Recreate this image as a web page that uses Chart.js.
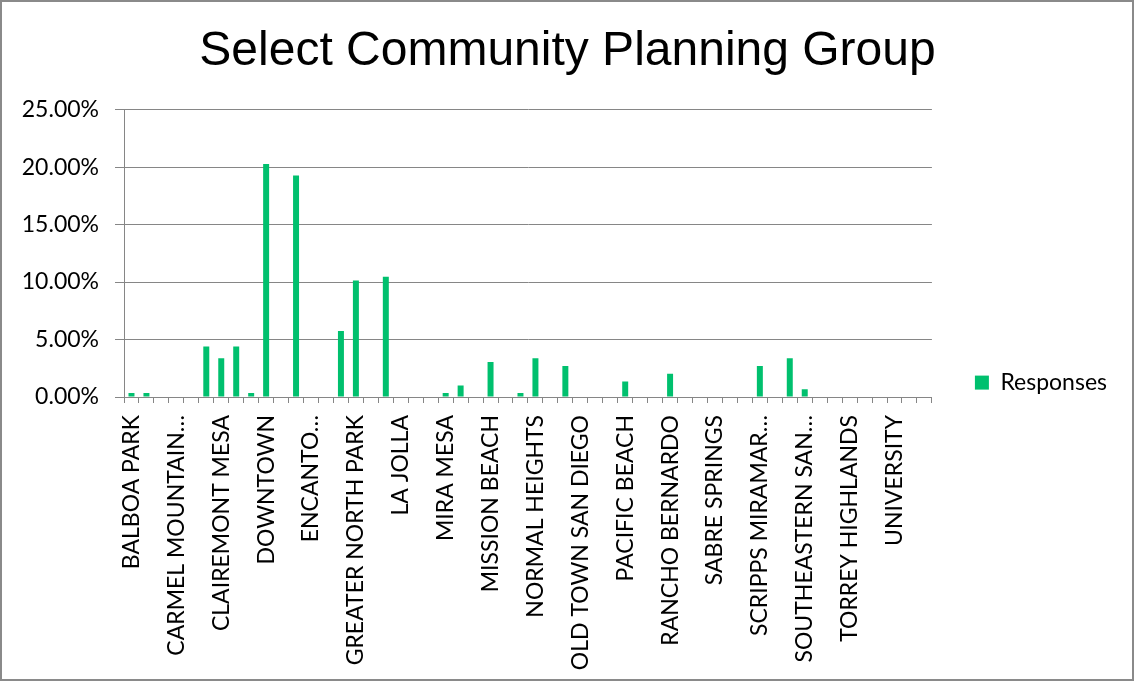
<!DOCTYPE html>
<html>
<head>
<meta charset="utf-8">
<script src="https://cdn.jsdelivr.net/npm/chart.js@4"></script>
<style>
  html, body { margin: 0; padding: 0; background: #fff; }
  #wrap { width: 1135px; height: 681px; position: relative; }
</style>
</head>
<body>
<div id="wrap"><canvas id="chart"></canvas></div>
<script>
const categories = [
  "BALBOA PARK", "BARRIO LOGAN", "BLACK MOUNTAIN RANCH",
  "CARMEL MOUNTAIN RANCH", "CARMEL VALLEY", "CITY HEIGHTS",
  "CLAIREMONT MESA", "COLLEGE AREA", "DEL MAR MESA",
  "DOWNTOWN", "EAST ELLIOTT", "EASTERN AREA",
  "ENCANTO NEIGHBORHOODS", "FAIRBANKS RANCH", "GOLDEN HILL",
  "GREATER NORTH PARK", "KEARNY MESA", "KENSINGTON-TALMADGE",
  "LA JOLLA", "LINDA VISTA", "MIDWAY-PACIFIC HIGHWAY",
  "MIRA MESA", "MIRAMAR RANCH NORTH", "MISSION BAY PARK",
  "MISSION BEACH", "MISSION VALLEY", "NAVAJO",
  "NORMAL HEIGHTS", "NORTH UNIVERSITY CITY", "OCEAN BEACH",
  "OLD TOWN SAN DIEGO", "OTAY MESA", "OTAY MESA-NESTOR",
  "PACIFIC BEACH", "PACIFIC HIGHLANDS RANCH", "PENINSULA",
  "RANCHO BERNARDO", "RANCHO ENCANTADA", "RANCHO PENASQUITOS",
  "SABRE SPRINGS", "SAN PASQUAL", "SAN YSIDRO",
  "SCRIPPS MIRAMAR RANCH", "SERRA MESA", "SKYLINE-PARADISE HILLS",
  "SOUTHEASTERN SAN DIEGO", "TIERRASANTA", "TIJUANA RIVER VALLEY",
  "TORREY HIGHLANDS", "TORREY HILLS", "TORREY PINES",
  "UNIVERSITY", "UPTOWN", "VIA DE LA VALLE"
];

// percent of responses per group
const responses = [
  0.34, 0.34, 0, 0, 0, 4.39,
  3.38, 4.39, 0.34, 20.27, 0, 19.26,
  0, 0, 5.74, 10.14, 0, 10.47,
  0, 0, 0, 0.34, 1.01, 0,
  3.04, 0, 0.34, 3.38, 0, 2.70,
  0, 0, 0, 1.35, 0, 0,
  2.03, 0, 0, 0, 0, 0,
  2.70, 0, 3.38, 0.68, 0, 0,
  0, 0, 0, 0, 0, 0
];

// only every third category gets a label on the axis
const tickLabels = [
  "BALBOA PARK", "CARMEL MOUNTAIN…", "CLAIREMONT MESA", "DOWNTOWN",
  "ENCANTO…", "GREATER NORTH PARK", "LA JOLLA", "MIRA MESA",
  "MISSION BEACH", "NORMAL HEIGHTS", "OLD TOWN SAN DIEGO", "PACIFIC BEACH",
  "RANCHO BERNARDO", "SABRE SPRINGS", "SCRIPPS MIRAMAR…", "SOUTHEASTERN SAN…",
  "TORREY HIGHLANDS", "UNIVERSITY"
];

const yMin = 0, yMax = 25, yStep = 5;

const GRID = "#868686";
const GREEN = "#00C06E";

Chart.defaults.font.family = "Lato, 'Noto Sans', sans-serif";
Chart.defaults.font.size = 23;
Chart.defaults.color = "#000";

const frame = {
  id: "frame",
  beforeDraw(chart) {
    const c = chart.ctx;
    c.save();
    c.fillStyle = "#fff";
    c.fillRect(0, 0, chart.width, chart.height);
    c.restore();
  },
  afterDraw(chart) {
    const c = chart.ctx;
    c.save();
    c.strokeStyle = "#8a8a8a";
    c.lineWidth = 2;
    c.strokeRect(1, 1, chart.width - 3, chart.height - 2);
    c.restore();
  }
};

new Chart(document.getElementById("chart"), {
  type: "bar",
  data: {
    labels: categories,
    datasets: [{
      label: "Responses",
      data: responses,
      backgroundColor: GREEN,
      borderWidth: 0,
      barPercentage: 0.4,
      categoryPercentage: 1
    }]
  },
  options: {
    responsive: true,
    maintainAspectRatio: false,
    animation: false,
    layout: { padding: { left: 18, right: 18, top: 0, bottom: 0 } },
    plugins: {
      title: {
        display: true,
        text: "Select Community Planning Group",
        font: { family: "'Liberation Sans', Arial, sans-serif", size: 48, weight: "normal" },
        color: "#000",
        padding: { top: 23, bottom: 29 }
      },
      legend: {
        position: "right",
        // empty title only pushes the entry down a little
        title: { display: true, text: "", font: { size: 21 }, padding: { top: 0, bottom: 59 } },
        labels: {
          boxWidth: 14,
          boxHeight: 14,
          padding: 43,
          font: { size: 23 }
        }
      },
      tooltip: { enabled: false }
    },
    scales: {
      x: {
        offset: true,
        grid: { offset: true, drawOnChartArea: false, drawTicks: true, tickLength: 6, color: GRID },
        border: { color: GRID, width: 1 },
        ticks: {
          autoSkip: false,
          maxRotation: 90,
          minRotation: 90,
          padding: 12,
          callback: (v, i) => (i % 3 === 0 ? tickLabels[i / 3] : "")
        },
        afterFit: s => { s.height = 284; }
      },
      y: {
        min: yMin,
        max: yMax,
        grid: { color: GRID, tickLength: 9 },
        border: { color: GRID, width: 1 },
        ticks: {
          stepSize: yStep,
          padding: 16,
          callback: v => v.toFixed(2) + "%"
        },
        afterFit: s => { s.width = 106; }
      }
    }
  },
  plugins: [frame]
});
</script>
</body>
</html>
